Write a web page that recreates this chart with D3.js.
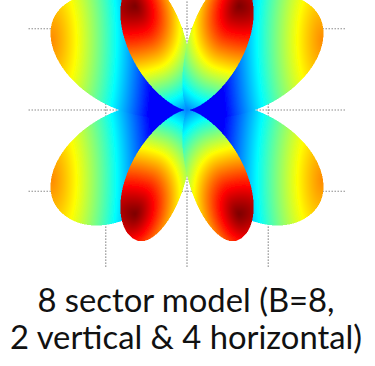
<!DOCTYPE html>
<html>
<head>
<meta charset="utf-8">
<script src="https://cdn.jsdelivr.net/npm/d3@7"></script>
<style>
  html, body { margin: 0; padding: 0; background: #fff; }
  svg { display: block; }
</style>
</head>
<body>
<div id="chart"></div>
<script>
// beam lobes, lengths in grid cells, angles in degrees (0 = +x, counter clockwise)
// order = draw order: 4 horizontal-ish lobes first, the 2x2 vertical ones on top
var lobeAngle  = [217, 143, 323, 37, 249, 111, 291, 69];
var lobeLength = [2.0, 2.0, 2.0, 2.0, 1.72, 1.72, 1.72, 1.72];
var spreadCW   = [28, 33, 33, 28, 23, 17, 17, 23];
var spreadCCW  = [33, 28, 28, 33, 17, 23, 23, 17];
// hottest spot of every lobe, its gain and how the gain falls off
var hotX       = [-1.66, -1.66, 1.66, 1.66, -0.64, -0.64, 0.64, 0.64];
var hotY       = [-0.86, 0.86, -0.86, 0.86, -1.28, 1.28, -1.28, 1.28];
var gradAngle  = [180, 180, 0, 0, 249, 111, 291, 69];
var lobePeak   = [0.7, 0.7, 0.7, 0.7, 1, 1, 1, 1];
var reach      = [0.75, 0.75, 0.75, 0.75, 1.16, 1.16, 1.16, 1.16];
var falloff    = [1.2, 1.2, 1.2, 1.2, 1.2, 1.2, 1.2, 1.2];
var sideCW     = [0.4, 0.4, 0.4, 0.4, 0.8, 1.6, 1.6, 0.8];
var sideCCW    = [0.4, 0.4, 0.4, 0.4, 1.6, 0.8, 0.8, 1.6];

var gridX = [-1, 0, 1];
var gridY = [-1, 0, 1];
var titleLines = ["8 sector model (B=8,", "2 vertical & 4 horizontal)"];

var width = 375, height = 366, plotH = 270;

var x = d3.scaleLinear().domain([-2, 2]).range([24.5, 349.5]);
var y = d3.scaleLinear().domain([-2, 2]).range([272.5, -52.5]);

// matlab jet
var jet = d3.scaleLinear()
  .domain([0, 0.125, 0.375, 0.625, 0.875, 1])
  .range(["#00008f", "#0000ff", "#00ffff", "#ffff00", "#ff0000", "#800000"])
  .clamp(true);
var gainColor = d3.scaleLinear().domain([0, 1]).range([0.12, 1]);

var svg = d3.select("#chart").append("svg")
  .attr("width", width)
  .attr("height", height);

var defs = svg.append("defs");
defs.append("filter").attr("id", "soft")
  .append("feGaussianBlur").attr("stdDeviation", 0.5);

// dotted grid
var grid = svg.append("g")
  .attr("stroke", "#7a7a7a")
  .attr("stroke-width", 1.2)
  .attr("stroke-dasharray", "1.3,1.7");

grid.selectAll(".gy").data(gridY).enter().append("line")
  .attr("x1", x(-1.95)).attr("x2", x(1.95))
  .attr("y1", function(d){ return y(d); })
  .attr("y2", function(d){ return y(d); });

grid.selectAll(".gx").data(gridX).enter().append("line")
  .attr("x1", function(d){ return x(d); })
  .attr("x2", function(d){ return x(d); })
  .attr("y1", y(2)).attr("y2", y(-1.93));

// render the lobes pixel by pixel (2x supersampled)
var ss = 2;
var canvas = document.createElement("canvas");
canvas.width = width * ss;
canvas.height = plotH * ss;
var ctx = canvas.getContext("2d");
var img = ctx.createImageData(canvas.width, canvas.height);

function lobeAt(px, py){
  var r = Math.sqrt(px*px + py*py);
  var phi = Math.atan2(py, px) * 180 / Math.PI;
  var hit = -1;
  for (var k = 0; k < lobeAngle.length; k++){
    var dl = phi - lobeAngle[k];
    while (dl > 180) dl -= 360;
    while (dl < -180) dl += 360;
    if (Math.abs(dl) > 90) continue;
    var s = dl < 0 ? spreadCW[k] : spreadCCW[k];
    var rb = lobeLength[k] * Math.exp(-dl*dl / (2*s*s));
    if (r <= rb) hit = k;
  }
  return hit;
}

function gainAt(k, px, py){
  var a = gradAngle[k] * Math.PI / 180;
  var ux = Math.cos(a), uy = Math.sin(a);
  var D = hotX[k]*ux + hotY[k]*uy;
  var rx = px - hotX[k], ry = py - hotY[k];
  var along = rx*ux + ry*uy;
  var side = -rx*uy + ry*ux;
  side *= side > 0 ? sideCCW[k] : sideCW[k];
  var d = Math.sqrt(along*along + side*side) / D;
  var f = 1 - Math.pow(d / reach[k], falloff[k]);
  return lobePeak[k] * Math.max(0, f);
}

for (var j = 0; j < canvas.height; j++){
  var py = y.invert((j + 0.5) / ss);
  for (var i = 0; i < canvas.width; i++){
    var px = x.invert((i + 0.5) / ss);
    var k = lobeAt(px, py);
    if (k < 0) continue;
    var c = d3.rgb(jet(gainColor(gainAt(k, px, py))));
    var o = (j * canvas.width + i) * 4;
    img.data[o] = c.r;
    img.data[o+1] = c.g;
    img.data[o+2] = c.b;
    img.data[o+3] = 255;
  }
}
ctx.putImageData(img, 0, 0);

svg.append("image")
  .attr("x", 0).attr("y", 0)
  .attr("width", width).attr("height", plotH)
  .attr("preserveAspectRatio", "none")
  .attr("filter", "url(#soft)")
  .attr("href", canvas.toDataURL());

// caption
var title = svg.append("g")
  .attr("font-family", "Lato, 'Open Sans', sans-serif")
  .attr("fill", "#111")
  .attr("text-anchor", "middle");

var lines = title.selectAll("text").data(titleLines).enter().append("text")
  .attr("x", 186)
  .attr("y", function(d, i){ return 312 + i * 37; })
  .attr("font-size", 33)
  .text(function(d){ return d; });

// fit the longer line to its width in the picture
var w2 = lines.nodes()[1].getComputedTextLength();
lines.attr("font-size", 33 * 352 / w2);
</script>
</body>
</html>
